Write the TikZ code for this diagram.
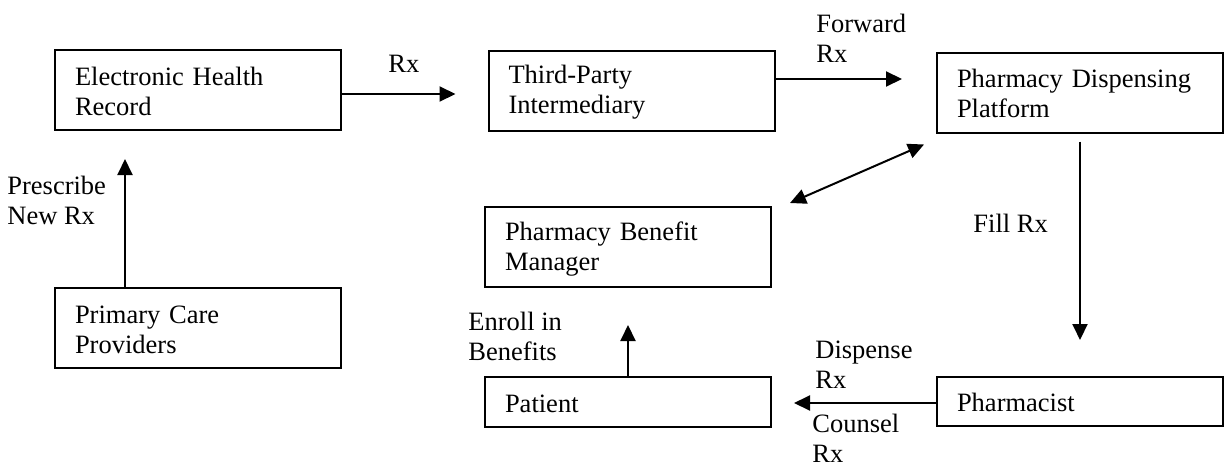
\documentclass[tikz,border=0pt]{standalone}
\usepackage{fontspec}
\setmainfont{Liberation Serif}
\usetikzlibrary{calc,arrows.meta}
\begin{document}
\begin{tikzpicture}[x=0.5pt,y=-0.5pt,
  font=\fontsize{13.25}{15}\selectfont,
  box/.style={draw, line width=1pt, rectangle, align=left,
    text width=123pt, inner xsep=10pt, inner ysep=0pt,
    minimum height=#1,
    execute at begin node={\rule{0pt}{11pt}},
    execute at end node={\rule[-0.75pt]{0pt}{0.75pt}}},
  box/.default=40pt,
  lbl/.style={anchor=base west, align=left, inner sep=0pt},
  arr/.style={line width=1pt, -{Triangle[length=8pt,width=7.5pt]}},
  darr/.style={line width=1pt, {Triangle[length=8pt,width=7.5pt]}-{Triangle[length=8pt,width=7.5pt]}}]
\useasboundingbox (0,0) rectangle (1225,466);

% boxes
\node[box] (ehr) at (198,90)   {Electronic Health\\Record};
\node[box] (tpi) at (631.5,90.5) {Third-Party\\Intermediary};
\node[box] (pdp) at (1080,92.5) {Pharmacy Dispensing\\Platform};
\node[box] (pbm) at (628,247)  {Pharmacy Benefit\\Manager};
\node[box] (pcp) at (198,328)  {Primary Care\\Providers};
\node[box=25pt] (pat) at (628,402)  {Patient};
\node[box=24.5pt] (phm) at (1080,401.5) {Pharmacist};

% connectors
\draw[arr] ($(pcp.north west)+(71,0)$) -- ($(ehr.south west)+(71,28)$);
\draw[arr] ($(ehr.east)+(0,4)$) -- ($(tpi.west)+(-32,3.5)$);
\draw[arr] ($(tpi.east)+(0,-11.5)$) -- ($(pdp.west)+(-34,-13.5)$);
\draw[darr] ($(pdp.south west)+(-12,11)$) -- ($(pbm.north east)+(18,-3)$);
\draw[arr] ($(pdp.south)+(0,8)$) -- ($(phm.north)+(0,-36)$);
\draw[arr] ($(phm.west)+(0,1.5)$) -- ($(pat.east)+(22,1)$);
\draw[arr] (pat.north) -- ($(pbm.south)+(0,37)$);

% labels (anchored on the baseline of their last line)
\node[lbl] (lrx)   at (388,72)  {Rx};
\node[lbl] (lpre)  at (7,224)   {Prescribe\\New Rx};
\node[lbl] (lfwd)  at (816,62)  {Forward\\Rx};
\node[lbl] (lfill) at (973,232) {Fill Rx};
\node[lbl] (ldis)  at (815,388) {Dispense\\Rx};
\node[lbl] (lcou)  at (812,462) {Counsel\\Rx};
\node[lbl] (lenr)  at (468,360) {Enroll in\\Benefits};
\end{tikzpicture}
\end{document}
